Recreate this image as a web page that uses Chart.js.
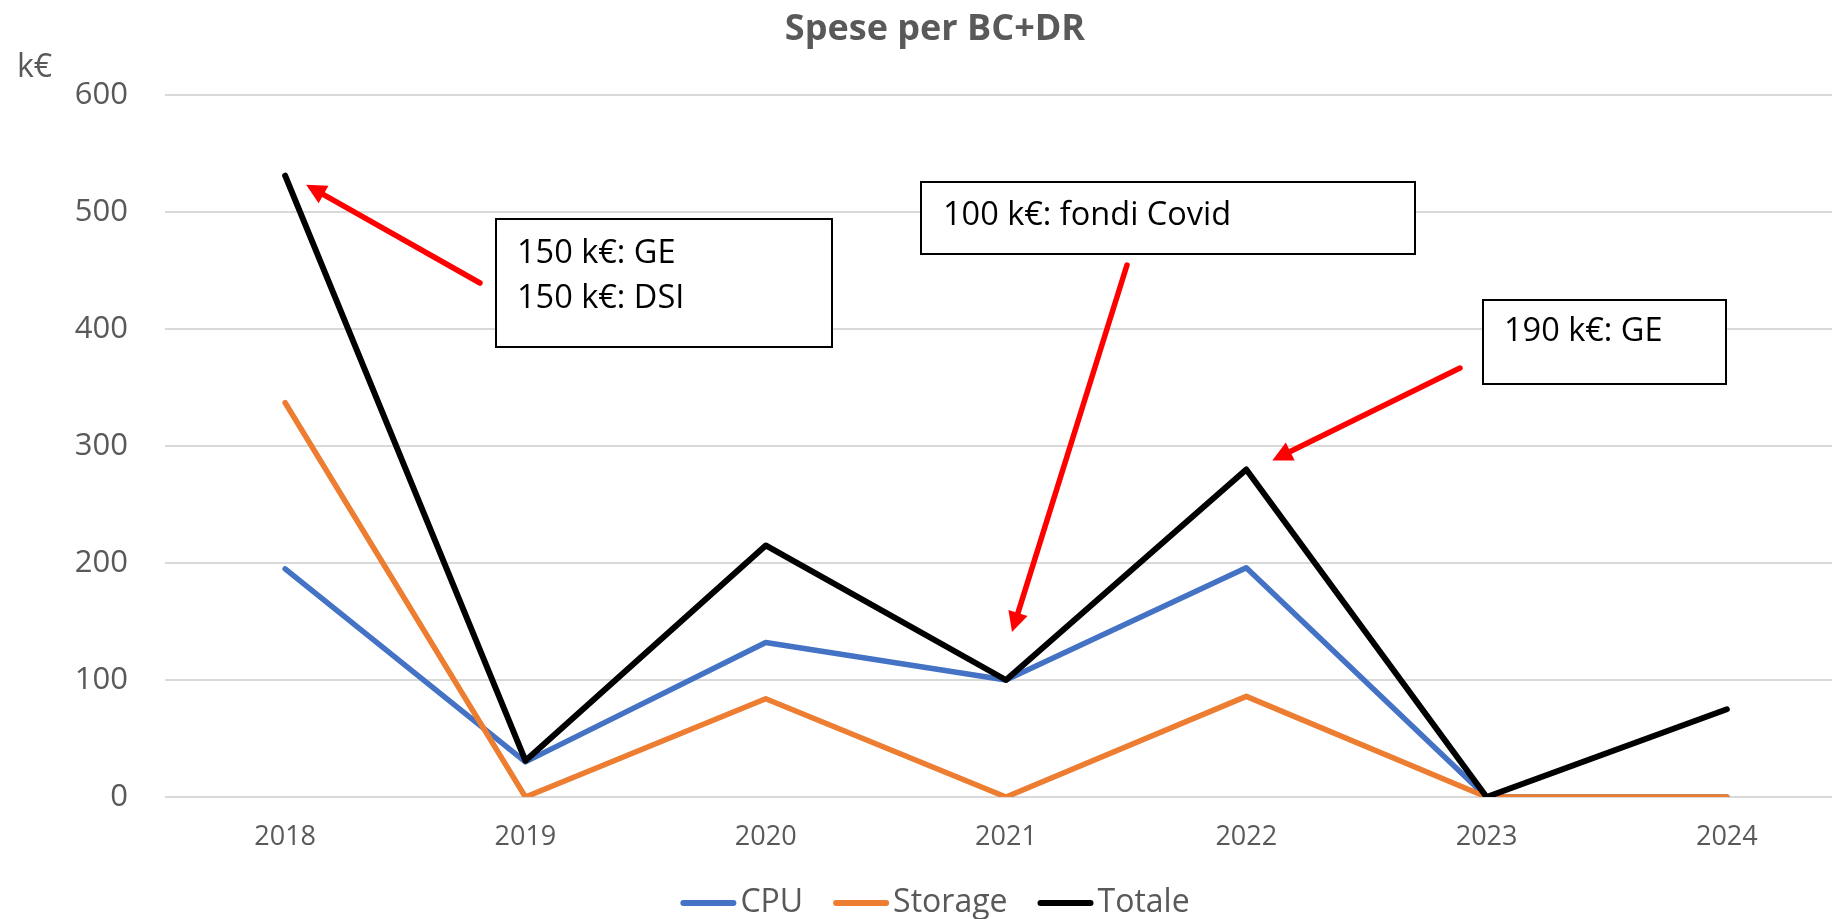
<!DOCTYPE html>
<html>
<head>
<meta charset="utf-8">
<title>Spese per BC+DR</title>
<script src="https://cdn.jsdelivr.net/npm/chart.js@4.4.1/dist/chart.umd.min.js"></script>
<style>
    html, body { margin: 0; padding: 0; background: #fff; overflow: hidden; }
    #wrap { position: relative; width: 1832px; height: 919px; overflow: hidden; }
    canvas { display: block; }
</style>
</head>
<body>
<div id="wrap"><canvas id="speseChart" width="1870" height="919"></canvas></div>
<script>
// Data (k€)
const years = ['2018', '2019', '2020', '2021', '2022', '2023', '2024'];
const cpu = [195, 30, 132, 100, 196, 0, 0];
const storage = [337, 0, 84, 0, 86, 0, 0];
const totale = [531, 31, 215, 100, 280, 0, 75];
const yTicks = [0, 100, 200, 300, 400, 500, 600];

// Callouts: text and the Totale point they point at
const noteTexts = [
    ['150 k€: GE', '150 k€: DSI'],
    ['100 k€: fondi Covid'],
    ['190 k€: GE']
];
const noteYears = ['2018', '2021', '2022'];

// Callout layout (pixels)
const noteLayout = [
    { box: [496, 219, 336, 128], textX: 517, textY: 254, tail: [480, 283], tipOffset: [21, 9] },
    { box: [921, 182, 494, 72], textX: 943, textY: 216, tail: [1127, 265], tipOffset: [6, -48] },
    { box: [1483, 300, 243, 84], textX: 1504, textY: 332, tail: [1460, 368], tipOffset: [26, -9] }
];

const FONT = '"Open Sans", "Liberation Sans", sans-serif';
const GREY = '#595959';

function drawArrow(ctx, x1, y1, x2, y2) {
    const ang = Math.atan2(y2 - y1, x2 - x1);
    const headLen = 20, headHalf = 10;
    const bx = x2 - headLen * Math.cos(ang), by = y2 - headLen * Math.sin(ang);
    ctx.save();
    ctx.strokeStyle = '#ff0000';
    ctx.fillStyle = '#ff0000';
    ctx.lineWidth = 5.5;
    ctx.beginPath();
    ctx.moveTo(x1, y1);
    ctx.lineTo(bx, by);
    ctx.stroke();
    ctx.beginPath();
    ctx.moveTo(x2, y2);
    ctx.lineTo(bx + headHalf * Math.sin(ang), by - headHalf * Math.cos(ang));
    ctx.lineTo(bx - headHalf * Math.sin(ang), by + headHalf * Math.cos(ang));
    ctx.closePath();
    ctx.fill();
    ctx.restore();
}

const extrasPlugin = {
    id: 'extras',
    afterDraw(chart) {
        const ctx = chart.ctx;
        const xs = chart.scales.x, ys = chart.scales.y;
        ctx.save();

        // title
        ctx.fillStyle = GREY;
        ctx.font = 'bold 36px ' + FONT;
        ctx.textAlign = 'center';
        ctx.textBaseline = 'middle';
        ctx.fillText('Spese per BC+DR', chart.width / 2, 30);

        // unit label
        ctx.font = '32px ' + FONT;
        ctx.textAlign = 'left';
        ctx.fillText('k€', 17, 68);

        // legend
        const items = chart.data.datasets;
        const swatch = 56, gap = 4, between = 30;
        ctx.font = '32px ' + FONT;
        let total = 0;
        items.forEach((d, i) => {
            total += swatch + gap + ctx.measureText(d.label).width + (i ? between : 0);
        });
        let lx = chart.width / 2 - total / 2;
        const ly = 903;
        items.forEach(d => {
            ctx.strokeStyle = d.borderColor;
            ctx.lineWidth = 6;
            ctx.lineCap = 'round';
            ctx.beginPath();
            ctx.moveTo(lx + 3, ly);
            ctx.lineTo(lx + swatch - 3, ly);
            ctx.stroke();
            ctx.fillStyle = GREY;
            ctx.fillText(d.label, lx + swatch + gap, ly);
            lx += swatch + gap + ctx.measureText(d.label).width + between;
        });

        // callouts
        noteTexts.forEach((lines, i) => {
            const L = noteLayout[i];
            const [bx, by, bw, bh] = L.box;
            ctx.fillStyle = '#ffffff';
            ctx.fillRect(bx, by, bw, bh);
            ctx.strokeStyle = '#000000';
            ctx.lineWidth = 2;
            ctx.strokeRect(bx, by, bw, bh);
            ctx.fillStyle = '#000000';
            ctx.font = '32.5px ' + FONT;
            ctx.textAlign = 'left';
            lines.forEach((t, j) => ctx.fillText(t, L.textX, L.textY + j * 45));

            const idx = years.indexOf(noteYears[i]);
            const px = xs.getPixelForValue(idx) + L.tipOffset[0];
            const py = ys.getPixelForValue(totale[idx]) + L.tipOffset[1];
            drawArrow(ctx, L.tail[0], L.tail[1], px, py);
        });
        ctx.restore();
    }
};

function initChart() {
    const el = document.getElementById('speseChart');
    new Chart(el, {
        type: 'line',
        data: {
            labels: years,
            datasets: [
                { label: 'CPU', data: cpu, borderColor: '#4472c4', borderWidth: 5.5, order: 3 },
                { label: 'Storage', data: storage, borderColor: '#ed7d31', borderWidth: 5.5, order: 2 },
                { label: 'Totale', data: totale, borderColor: '#000000', borderWidth: 6, order: 1 }
            ]
        },
        options: {
            responsive: false,
            animation: false,
            events: [],
            layout: { padding: { top: 95, right: 23, left: 0, bottom: 0 } },
            elements: {
                line: { tension: 0, fill: false, borderCapStyle: 'round', borderJoinStyle: 'round' },
                point: { radius: 0 }
            },
            plugins: {
                legend: { display: false },
                title: { display: false },
                tooltip: { enabled: false }
            },
            scales: {
                x: {
                    offset: true,
                    grid: { display: false, drawTicks: false, offset: true },
                    border: { display: false },
                    ticks: { color: GREY, font: { family: FONT, size: 27 }, padding: 24, maxRotation: 0 },
                    afterFit(s) { s.height = 122; }
                },
                y: {
                    min: 0,
                    max: 600,
                    afterBuildTicks(s) { s.ticks = yTicks.map(v => ({ value: v })); },
                    grid: { color: '#d9d9d9', lineWidth: 2, drawTicks: false },
                    border: { display: false },
                    ticks: { color: GREY, font: { family: FONT, size: 31 }, padding: 37 },
                    afterFit(s) { s.width = 165; }
                }
            }
        },
        plugins: [extrasPlugin]
    });
}

document.fonts.load('32px "Open Sans"')
    .then(() => document.fonts.load('bold 36px "Open Sans"'))
    .then(initChart, initChart);
</script>
</body>
</html>
